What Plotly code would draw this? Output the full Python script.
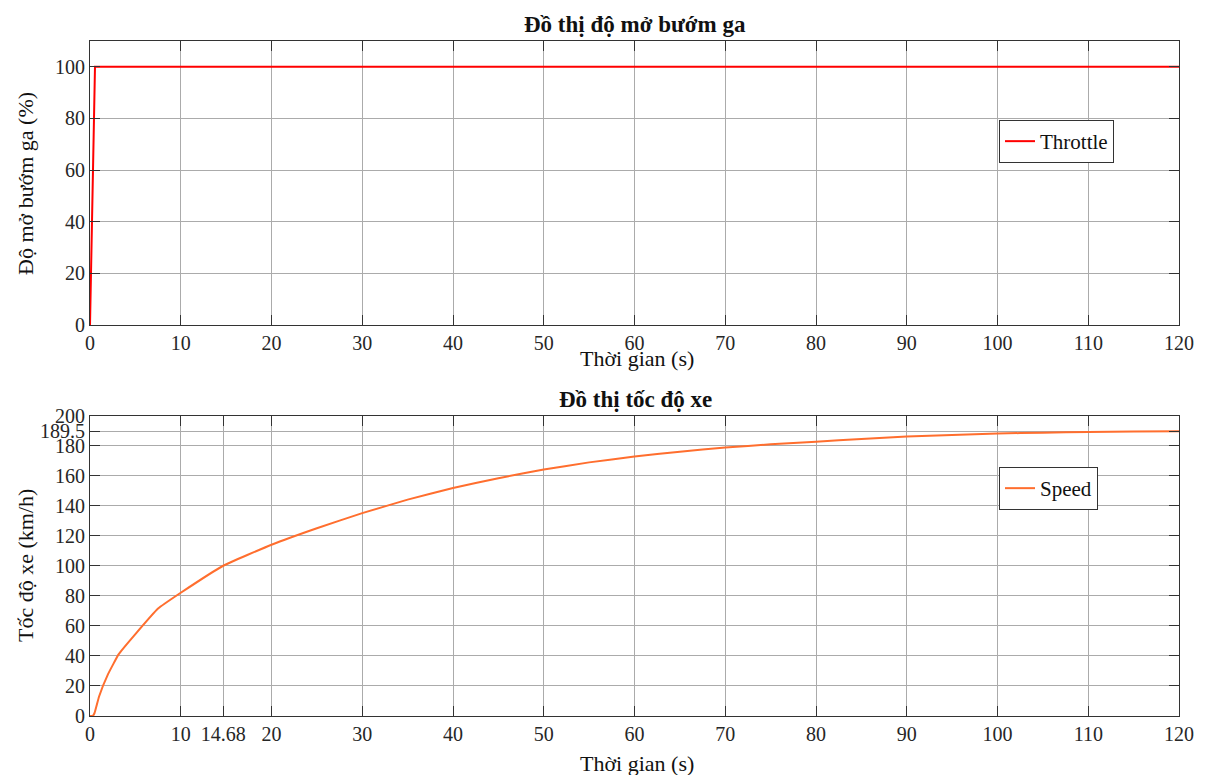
import plotly.graph_objects as go

# Data
throttle_t = [0, 0.55, 120]
throttle_v = [0, 100, 100]

speed_t = [0, 0.3, 0.5, 1, 2, 3.15, 5, 7.5, 10, 14.68, 20, 25, 30, 35, 40, 45, 50, 55,
           60, 65, 70, 75, 80, 85, 90, 95, 100, 105, 110, 115, 120]
speed_v = [0, 0, 2, 13, 28, 41, 54.5, 71.5, 82, 100, 114, 125, 135, 144, 151.8, 158.3,
           164, 168.8, 172.7, 175.9, 178.7, 180.8, 182.6, 184.4, 186, 187.1, 188, 188.6,
           189.1, 189.4, 189.5]

x_ticks_top = [0, 10, 20, 30, 40, 50, 60, 70, 80, 90, 100, 110, 120]
x_ticks_bottom = [0, 10, 14.68, 20, 30, 40, 50, 60, 70, 80, 90, 100, 110, 120]
x_ticklabels_bottom = ["0", "10", "14.68", "20", "30", "40", "50", "60", "70", "80", "90",
                       "100", "110", "120"]
y_ticks_top = [0, 20, 40, 60, 80, 100]
y_ticks_bottom = [0, 20, 40, 60, 80, 100, 120, 140, 160, 180, 189.5, 200]
y_ticklabels_bottom = ["0", "20", "40", "60", "80", "100", "120", "140", "160", "180", "189.5", "200"]

FONT = "Liberation Serif"
W, H = 1205, 775
xd = [90 / W, 1179 / W]
yd_top = [1 - 325 / H, 1 - 41 / H]
yd_bot = [1 - 716 / H, 1 - 415.5 / H]

fig = go.Figure()
fig.add_trace(go.Scatter(x=throttle_t, y=throttle_v, mode="lines", name="Throttle",
                         line=dict(color="#ff0000", width=2), xaxis="x", yaxis="y",
                         legend="legend"))
fig.add_trace(go.Scatter(x=speed_t, y=speed_v, mode="lines", name="Speed",
                         line=dict(color="#ff6e2e", width=2, shape="spline", smoothing=0.3),
                         xaxis="x2", yaxis="y2", legend="legend2"))

axis_common = dict(showline=True, linecolor="#333333", linewidth=1, mirror="ticks",
                   ticks="inside", ticklen=10, tickcolor="#333333", showgrid=True,
                   gridcolor="#ababab", gridwidth=1, zeroline=False, automargin=False,
                   tickfont=dict(family=FONT, size=20, color="#262626"))

fig.update_layout(
    width=W, height=H,
    margin=dict(l=0, r=0, t=0, b=0, autoexpand=False),
    paper_bgcolor="white", plot_bgcolor="white",
    font=dict(family=FONT, color="#262626"),
    xaxis=dict(domain=xd, range=[0, 120], tickvals=x_ticks_top, anchor="y", **axis_common),
    yaxis=dict(domain=yd_top, range=[0, 110], tickvals=y_ticks_top, anchor="x", **axis_common),
    xaxis2=dict(domain=xd, range=[0, 120], tickvals=x_ticks_bottom, ticktext=x_ticklabels_bottom,
                anchor="y2", **axis_common),
    yaxis2=dict(domain=yd_bot, range=[0, 200], tickvals=y_ticks_bottom, ticktext=y_ticklabels_bottom,
                anchor="x2", **axis_common),
    legend=dict(x=999 / W, y=1 - 120 / H, xanchor="left", yanchor="top",
                bgcolor="white", bordercolor="#333333", borderwidth=1,
                font=dict(family=FONT, size=21, color="#111111"),
                itemwidth=30, tracegroupgap=0),
    legend2=dict(x=999 / W, y=1 - 467 / H, xanchor="left", yanchor="top",
                 bgcolor="white", bordercolor="#333333", borderwidth=1,
                 font=dict(family=FONT, size=21, color="#111111"),
                 itemwidth=30, tracegroupgap=0),
    showlegend=True,
)

ann = [
    dict(text="<b>Đồ thị độ mở bướm ga</b>", x=635 / W, y=1 - 24 / H, size=23),
    dict(text="<b>Đồ thị tốc độ xe</b>", x=635 / W, y=1 - 399 / H, size=23),
    dict(text="Thời gian (s)", x=637 / W, y=1 - 359 / H, size=22),
    dict(text="Thời gian (s)", x=637 / W, y=1 - 763 / H, size=22),
]
for a in ann:
    fig.add_annotation(text=a["text"], x=a["x"], y=a["y"], xref="paper", yref="paper",
                       showarrow=False, xanchor="center", yanchor="middle",
                       font=dict(family=FONT, size=a["size"], color="#111111"))
fig.add_annotation(text="Độ mở bướm ga (%)", x=25 / W, y=1 - 184 / H, xref="paper", yref="paper",
                   showarrow=False, textangle=-90, xanchor="center", yanchor="middle",
                   font=dict(family=FONT, size=22, color="#111111"))
fig.add_annotation(text="Tốc độ xe (km/h)", x=25 / W, y=1 - 566 / H, xref="paper", yref="paper",
                   showarrow=False, textangle=-90, xanchor="center", yanchor="middle",
                   font=dict(family=FONT, size=22, color="#111111"))

fig.write_html("out.html")
